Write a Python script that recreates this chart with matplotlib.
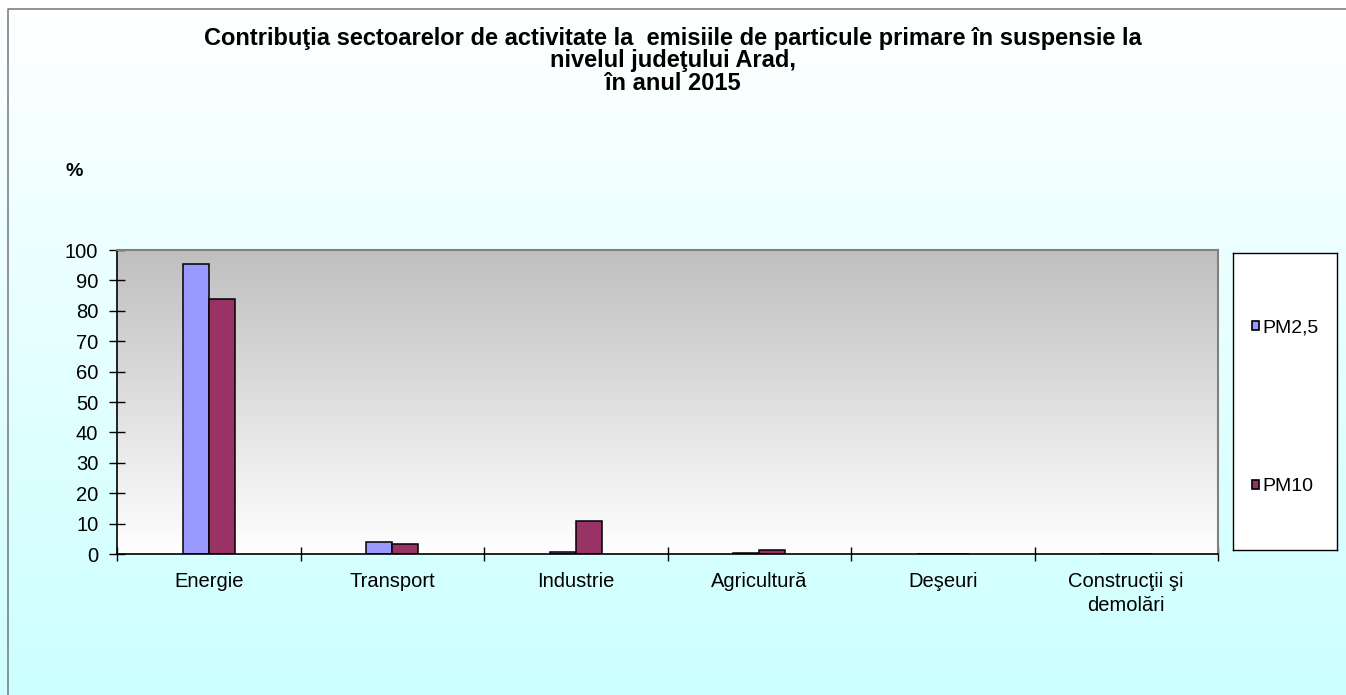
import numpy as np
import matplotlib
matplotlib.use("Agg")
import matplotlib.pyplot as plt
from matplotlib.patches import Patch

plt.rcParams['font.family'] = ['Liberation Sans', 'DejaVu Sans']

categories = ['Energie', 'Transport', 'Industrie', 'Agricultură', 'Deşeuri', 'Construcţii şi\ndemolări']
pm25 = [95.3, 3.8, 0.6, 0.2, 0.0, 0.1]
pm10 = [84.0, 3.4, 11.0, 1.3, 0.1, 0.1]
series_names = ['PM2,5', 'PM10']
colors = ['#9999ff', '#993366']
title = ('Contribuţia sectoarelor de activitate la  emisiile de particule primare în suspensie la\n'
         'nivelul judeţului Arad,\nîn anul 2015')

W, H = 1346, 695
fig = plt.figure(figsize=(W / 100, H / 100), dpi=100)

# chart background: white at top fading to light cyan at bottom
bg = fig.add_axes([0, 0, 1, 1], zorder=-10)
grad = np.linspace(0, 1, 256).reshape(-1, 1)
top_c = np.array([1.0, 1.0, 1.0])
bot_c = np.array([0.8, 1.0, 1.0])
img = top_c + (bot_c - top_c) * grad[:, :, None]
bg.imshow(img, aspect='auto', extent=[0, 1, 0, 1], origin='upper')
bg.set_xlim(0, 1)
bg.set_ylim(0, 1)
bg.axis('off')
bg.plot([8 / W, 8 / W, 1], [0, 1 - 9 / H, 1 - 9 / H], color='#808080', lw=1.2)

ax = fig.add_axes([117 / W, 1 - 554 / H, (1218 - 117) / W, (554 - 250) / H])
n = len(categories)
x = np.arange(n)
bw = 0.142

# plot area: gray at top to white at bottom
g2 = 0.75 + 0.25 * grad[:, :, None] * np.ones(3)
ax.imshow(g2, aspect='auto', extent=[-0.5, n - 0.5, 0, 100], origin='upper', zorder=0)

ax.bar(x - bw / 2, pm25, bw, color=colors[0], edgecolor='black', linewidth=1.1, zorder=2)
ax.bar(x + bw / 2, pm10, bw, color=colors[1], edgecolor='black', linewidth=1.1, zorder=2)

ax.set_xlim(-0.5, n - 0.5)
ax.set_ylim(0, 100)
ax.set_yticks(range(0, 101, 10))
ax.set_xticks(x)
ax.set_xticklabels(categories, fontsize=14.5, linespacing=1.3)
ax.set_xticks(np.arange(-0.5, n, 1), minor=True)
ax.tick_params(axis='x', which='major', length=0, pad=13)
ax.tick_params(axis='x', which='minor', length=10, direction='inout', width=1)
ax.tick_params(axis='y', length=11, direction='inout', width=1, labelsize=14.5, pad=8)
for s in ['top', 'right']:
    ax.spines[s].set_color('#808080')
    ax.spines[s].set_linewidth(1.5)
for s in ['left', 'bottom']:
    ax.spines[s].set_color('black')
    ax.spines[s].set_linewidth(1.2)

fig.text(0.5, 1 - 61 / H, title, ha='center', va='center', fontsize=17, fontweight='bold', linespacing=0.98)
fig.text(74 / W, 1 - 171 / H, '%', ha='center', va='center', fontsize=14, fontweight='bold')

# legend box
lax = fig.add_axes([1233 / W, 1 - 550 / H, (1337 - 1233) / W, (550 - 253) / H])
lax.set_xticks([])
lax.set_yticks([])
lax.set_facecolor('white')
for s in lax.spines.values():
    s.set_color('black')
    s.set_linewidth(1)
handles = [Patch(facecolor=c, edgecolor='black', linewidth=1.2) for c in colors]
lax.legend(handles, series_names, loc='center', bbox_to_anchor=(0.5, 0.48), frameon=False,
           fontsize=14, handlelength=0.4, handleheight=0.4, handletextpad=0.15,
           labelspacing=7.3, borderpad=0, borderaxespad=0)

fig.savefig('out.png', dpi=100)
